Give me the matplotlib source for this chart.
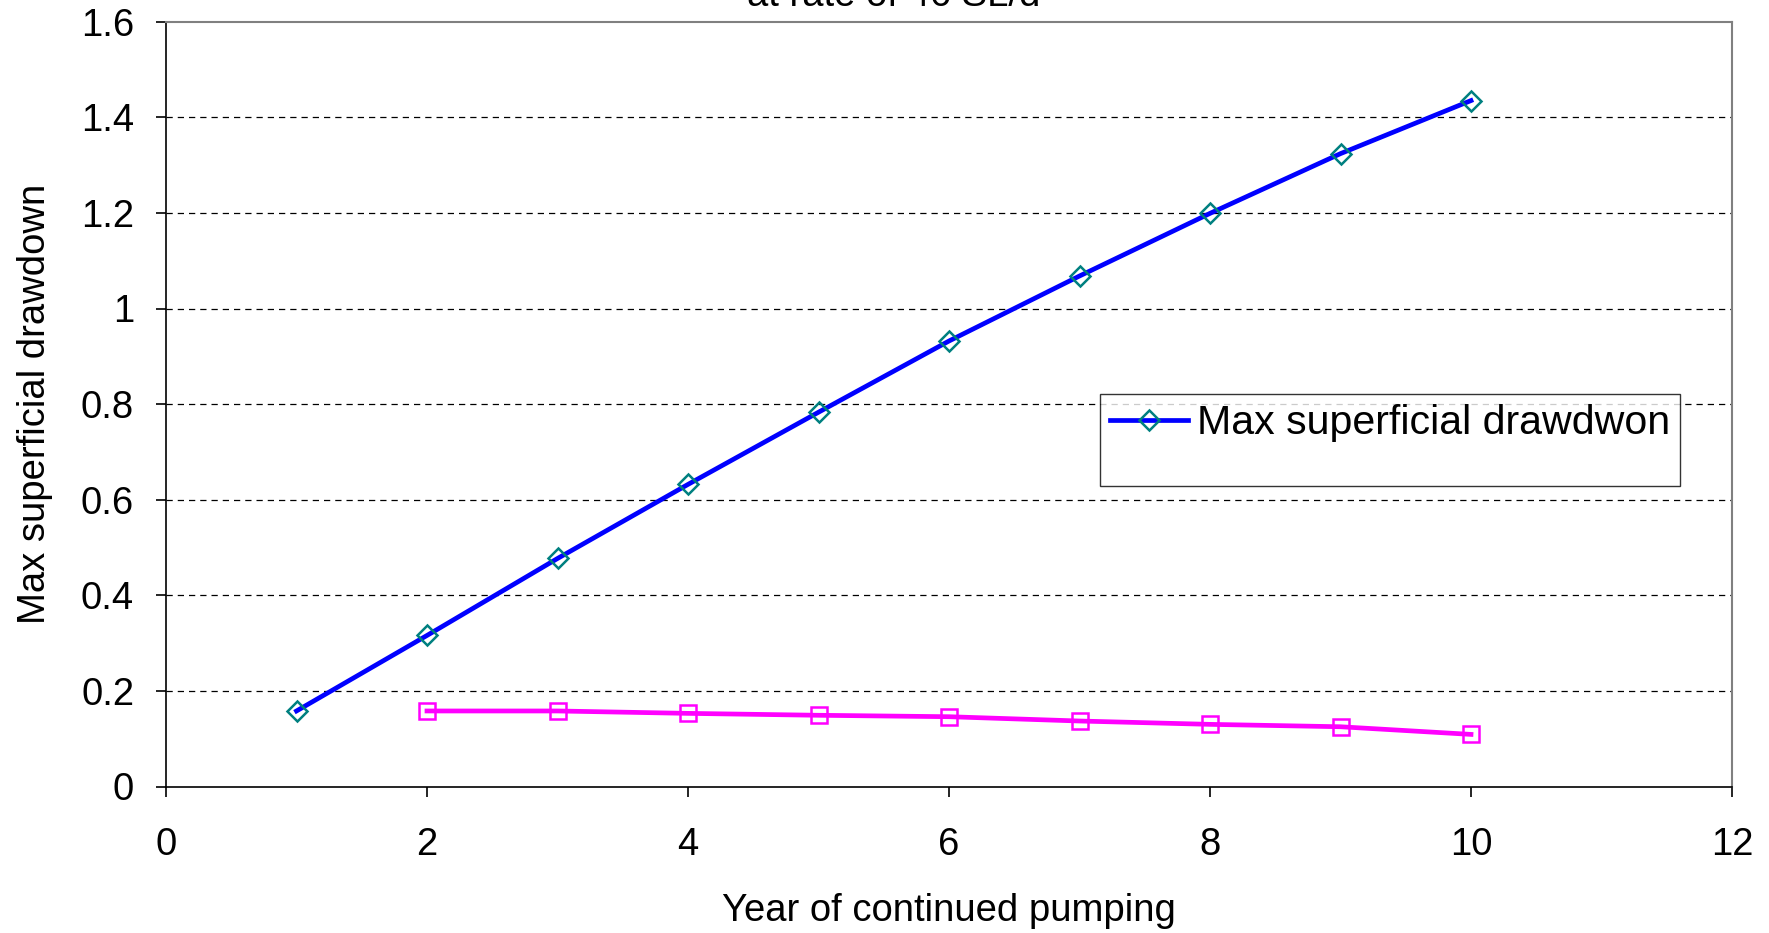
import numpy as np
import matplotlib.pyplot as plt
from matplotlib.lines import Line2D

plt.rcParams['font.family'] = ['Liberation Sans', 'DejaVu Sans']

years_max = [1, 2, 3, 4, 5, 6, 7, 8, 9, 10]
max_drawdown = [0.158, 0.316, 0.477, 0.632, 0.783, 0.932, 1.068, 1.199, 1.324, 1.435]

years_other = [2, 3, 4, 5, 6, 7, 8, 9, 10]
other_drawdown = [0.158, 0.158, 0.153, 0.149, 0.146, 0.137, 0.130, 0.125, 0.109]

x_ticks = [0, 2, 4, 6, 8, 10, 12]
y_ticks = [0, 0.2, 0.4, 0.6, 0.8, 1, 1.2, 1.4, 1.6]
y_tick_labels = ["0", "0.2", "0.4", "0.6", "0.8", "1", "1.2", "1.4", "1.6"]

fig = plt.figure(figsize=(17.69, 9.33), dpi=100)
ax = fig.add_axes([166/1769, 1 - 786.5/933, (1732-166)/1769, (786.5-21.7)/933])

blue, = ax.plot(years_max, max_drawdown, color='#0000FF', linewidth=3.4,
                marker='D', markersize=10, markerfacecolor='none',
                markeredgecolor='#008080', markeredgewidth=1.8, zorder=3)
ax.plot(years_other, other_drawdown, color='#FF00FF', linewidth=3.4,
        marker='s', markersize=11.5, markerfacecolor='none',
        markeredgecolor='#FF00FF', markeredgewidth=1.8, zorder=3)

ax.set_xlim(0, 12)
ax.set_ylim(0, 1.6)
ax.set_xticks(x_ticks)
ax.set_yticks(y_ticks)
ax.set_yticklabels(y_tick_labels)
ax.tick_params(direction='out', length=7, width=1.2, labelsize=27.5)
ax.tick_params(axis='x', pad=22)
ax.tick_params(axis='y', pad=16)

for yv in y_ticks[1:-1]:
    ax.axhline(yv, color='black', linestyle=(0, (5, 4)), linewidth=0.9, zorder=1)

for side in ['top', 'right']:
    ax.spines[side].set_color('#808080')
    ax.spines[side].set_linewidth(1.5)
for side in ['left', 'bottom']:
    ax.spines[side].set_color('black')
    ax.spines[side].set_linewidth(1.2)

ax.set_xlabel("Year of continued pumping", fontsize=27.5, labelpad=22)
ax.set_ylabel("Max superficial drawdown", fontsize=27.5, labelpad=20)

# title mostly cut off by the top edge
fig.text(894/1769, 1 - 6/933, "at rate of 46 SL/d", fontsize=27.5,
         ha='center', va='baseline')

# second legend row is empty in the original
blank = Line2D([], [], color='none')
leg = ax.legend([blue, blank], ["Max superficial drawdwon", " "],
                loc='upper left', bbox_to_anchor=((1100-166)/1566, 1 - (394-21.7)/764.8),
                fontsize=29.6, frameon=True, fancybox=False, handlelength=1.9,
                handletextpad=0.2, borderpad=0.25, labelspacing=-0.12,
                borderaxespad=0)
leg.get_frame().set_edgecolor('black')
leg.get_frame().set_linewidth(1.0)

fig.savefig("out.png", dpi=100)
